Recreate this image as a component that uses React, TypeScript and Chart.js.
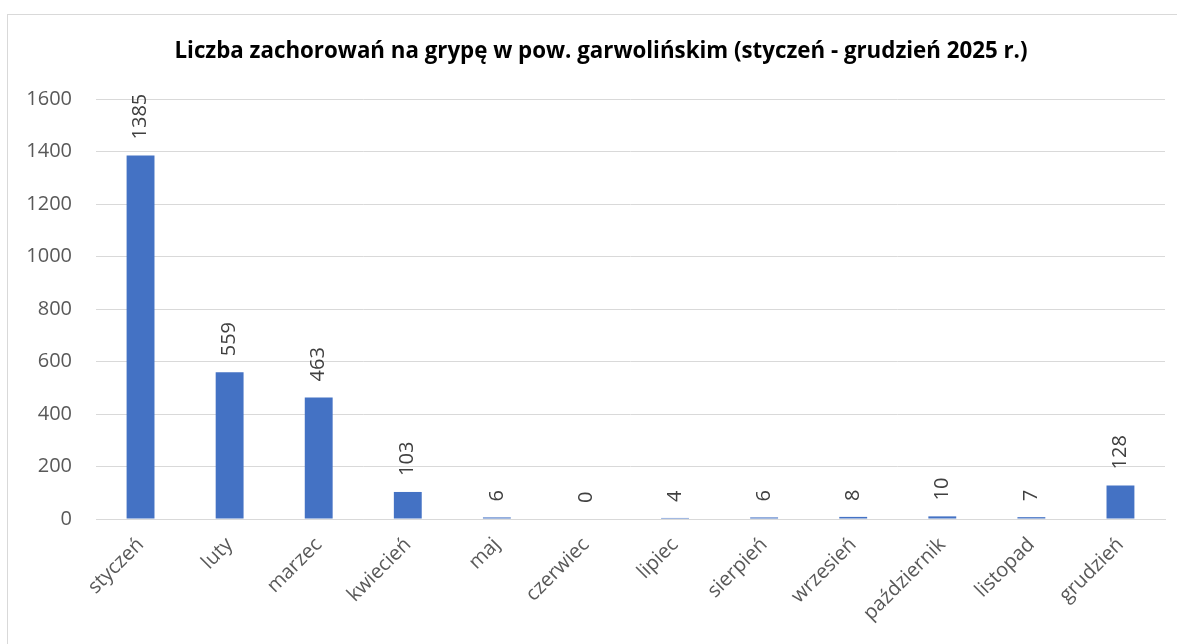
import React, { useEffect, useRef } from "react";
import { Chart, registerables } from "chart.js";

Chart.register(...registerables);

const TITLE = "Liczba zachorowań na grypę w pow. garwolińskim (styczeń - grudzień 2025 r.)";
const MONTHS = ["styczeń", "luty", "marzec", "kwiecień", "maj", "czerwiec", "lipiec", "sierpień", "wrzesień", "październik", "listopad", "grudzień"];
const CASES = [1385, 559, 463, 103, 6, 0, 4, 6, 8, 10, 7, 128];
const Y_MIN = 0;
const Y_MAX = 1600;
const Y_STEP = 200;

const FONT = "'Open Sans', 'Noto Sans', sans-serif";

const valueLabels = {
  id: "valueLabels",
  afterDatasetsDraw(chart: any) {
    const ctx = chart.ctx;
    const meta = chart.getDatasetMeta(0);
    const data = chart.data.datasets[0].data as number[];
    ctx.save();
    ctx.fillStyle = "#404040";
    ctx.font = `20px ${FONT}`;
    meta.data.forEach((bar: any, i: number) => {
      ctx.save();
      ctx.translate(bar.x, bar.y - 16);
      ctx.rotate(-Math.PI / 2);
      ctx.textAlign = "left";
      ctx.textBaseline = "middle";
      ctx.fillText(String(data[i]), 0, 0);
      ctx.restore();
    });
    ctx.restore();
  },
};

const chartTitle = {
  id: "chartTitle",
  afterDraw(chart: any) {
    const ctx = chart.ctx;
    ctx.save();
    ctx.fillStyle = "#000000";
    ctx.font = `bold 22.3px ${FONT}`;
    ctx.textAlign = "center";
    ctx.textBaseline = "middle";
    ctx.fillText(TITLE, 601, 52);
    ctx.restore();
  },
};

export default function App() {
  const ref = useRef<HTMLCanvasElement>(null);
  useEffect(() => {
    if (!ref.current) return;
    const chart = new Chart(ref.current, {
      type: "bar",
      data: {
        labels: MONTHS,
        datasets: [
          {
            data: CASES,
            backgroundColor: "#4472C4",
            borderWidth: 0,
            categoryPercentage: 1,
            barPercentage: 0.313,
          },
        ],
      },
      options: {
        animation: false,
        responsive: false,
        maintainAspectRatio: false,
        layout: { padding: { left: 0, right: 12, top: 99, bottom: 0 } },
        plugins: {
          legend: { display: false },
          tooltip: { enabled: false },
          title: { display: false },
        },
        scales: {
          x: {
            grid: { display: false, drawTicks: false },
            border: { display: true, color: "#d9d9d9", width: 1 },
            ticks: {
              color: "#595959",
              font: { family: FONT, size: 20 },
              maxRotation: 45,
              minRotation: 45,
              autoSkip: false,
              padding: 14,
            },
            afterFit(scale: any) {
              scale.height = 125;
            },
          },
          y: {
            min: Y_MIN,
            max: Y_MAX,
            grid: { color: "#d9d9d9", drawTicks: false, lineWidth: 1 },
            border: { display: false },
            ticks: {
              stepSize: Y_STEP,
              color: "#595959",
              font: { family: FONT, size: 20 },
              padding: 24,
              callback: (v: any) => String(v),
            },
            afterFit(scale: any) {
              scale.width = 96;
            },
          },
        },
      },
      plugins: [valueLabels, chartTitle],
    });
    return () => chart.destroy();
  }, []);

  return (
    <div style={{ position: "fixed", left: 0, top: 0, width: 1177, height: 644, background: "#fff", overflow: "hidden" }}>
      <div
        style={{
          position: "absolute",
          left: 7,
          top: 14,
          width: 1200,
          height: 700,
          borderLeft: "1px solid #d9d9d9",
          borderTop: "1px solid #d9d9d9",
        }}
      />
      <canvas ref={ref} width={1177} height={644} style={{ position: "absolute", left: 0, top: 0 }} />
    </div>
  );
}
